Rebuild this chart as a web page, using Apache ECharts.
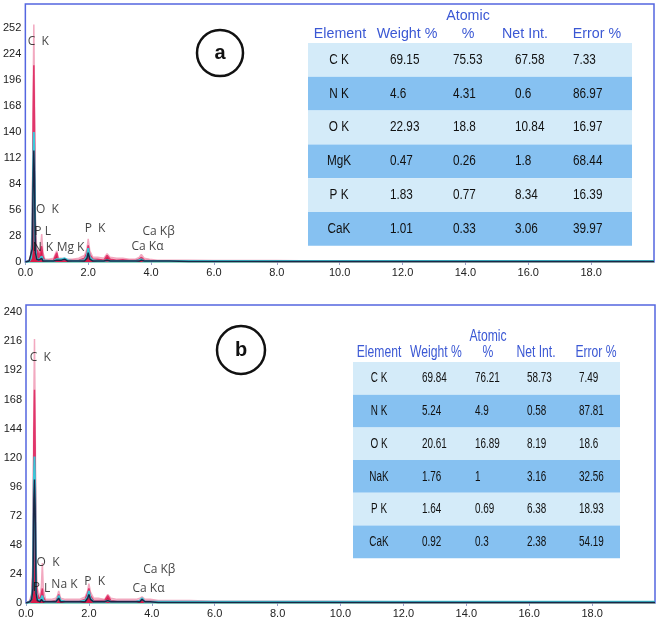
<!DOCTYPE html>
<html><head><meta charset="utf-8">
<script src="https://cdn.jsdelivr.net/npm/echarts@6/dist/echarts.min.js"></script>
<style>html,body{margin:0;padding:0;background:#fff}#c{width:661px;height:623px}</style>
</head><body><div id="c"></div>
<script>
// ================= DATA =================
// Panel (a) spectrum: energy (keV) and counts for each overlaid trace
const energyA = [0,0.12,0.18,0.22,0.25,0.27,0.29,0.32,0.36,0.39, 0.43,0.48,0.52,0.56,0.62,0.75,0.9,0.96,1.0,1.05, 1.15,1.25,1.35,1.5,1.7,1.88,1.96,2.0,2.05,2.15, 2.3,2.5,2.6,2.7,2.9,3.1,3.3,3.5,3.62,3.69, 3.78,3.95,4.2,4.6,5.2,6.0,7.0,8.0,9.5,12.0, 15.0,20.0];
const envelopeA = [0,2,8,40,190,256,180,45,14,16, 8,14,30,10,3,3,4,9,12,4, 4,3,3,3,4,7,14,25,12,5, 5,4,9,5,4,4,3,3,5,8, 4,3,2,2,2,1.5,1.5,1.5,1,1, 1,1];
const redA = [0,1,6,28,160,212,150,30,10,13, 5,11,17,6,1.5,1.5,2,7,10,2, 2,1.5,1.5,1.5,2,4,10,18,8,3, 3,2,7,3,2,2.5,1.5,1.5,3,5, 2,1.5,1,1,1,0.8,0.8,0.6,0.5,0.5, 0.5,0.5];
const cyanA = [0,1,4,18,110,140,105,14,4,4, 2,3,6,2,1,1,1,2,3,2, 3,4,2,1,1,2,6,15,5,2, 1,1,2,1,1,1,1,1,2,3, 1,1,1,1,1,1,1,1,1,1, 1,1];
const navyA = [0,1,3,14,95,120,90,10,3,3, 2,2,4,1,1,1,1,2,2,1, 2,3,1,1,1,1,4,10,3,1, 1,1,2,1,1,1,1,1,1,2, 1,1,1,1,0.5,0.5,0.5,0.5,0.5,0.5, 0.5,0.5];

// Panel (b) spectrum
const energyB = [0,0.12,0.18,0.22,0.25,0.27,0.29,0.32,0.36,0.40, 0.45,0.49,0.52,0.55,0.62,0.8,0.95,1.0,1.04,1.1, 1.25,1.5,1.7,1.88,1.96,2.0,2.05,2.15,2.3,2.5, 2.6,2.7,2.9,3.1,3.3,3.5,3.62,3.69,3.78,3.95, 4.2,4.6,5.2,6.0,7.0,8.0,9.5,12.0,15.0,20.0];
const envelopeB = [0,2,8,35,170,218,160,35,12,8, 6,14,33,12,3,3,4,6,10,4, 3,3,3,5,10,16,9,4,4,3, 7,4,3,3,3,3,4,5,3,3, 2,2,2,1.5,1.5,1.5,1.5,1,1,1];
const redB = [0,1,6,24,140,176,130,18,8,5, 3,8,12,5,1.5,1.5,2,4,7,2, 1.5,1.5,1.5,3,8,12,6,2,2,2, 6,2,1.5,1.5,1.5,1.5,2,3,1.5,1.5, 1,1,1,0.8,0.8,0.8,0.6,0.5,0.5,0.5];
const cyanB = [0,1,4,15,100,121,95,10,3,2, 2,4,6,2,1,1,1,3,6,2, 1,1,1,2,5,10,4,1,1,1, 2,1,1,1,1,1,2,4,1,1, 1,1,1,1,1,1,1,1,1,1];
const navyB = [0,1,3,12,85,102,80,8,2,2, 1,3,4,1,1,1,1,2,4,1, 1,1,1,1,4,7,3,1,1,1, 2,1,1,1,1,1,1,3,1,1, 0.5,0.5,0.5,0.5,0.5,0.5,0.5,0.5,0.5,0.5];

// Axis ticks
const xMin = 0, xMax = 20, xStep = 2;
const yMaxA = 278, yStepA = 28;
const yMaxB = 246, yStepB = 24;

// Peak annotations: [text, energy keV, counts]
const peakLabelsA = [['C  K',0.06,238],['O  K',0.32,56],['P',0.27,33],['L',0.6,33],['N',0.22,16],['K',0.63,16],['Mg K',0.98,16],['P  K',1.87,35.5],['Ca K\u03b2',3.71,33],['Ca K\u03b1',3.36,17]];
const peakLabelsB = [['C  K',0.1,203],['O  K',0.32,33],['P',0.2,13],['L',0.56,11.6],['Na K',0.79,15],['P  K',1.84,18],['Ca K\u03b2',3.71,28],['Ca K\u03b1',3.37,11.6]];

// Quantification tables
const headerTop  = ['', '', 'Atomic', '', ''];
const headerMain = ['Element', 'Weight %', '%', 'Net Int.', 'Error %'];
const elementsA = ['C K','N K','O K','MgK','P K','CaK'];
const weightA   = ['69.15','4.6','22.93','0.47','1.83','1.01'];
const atomicA   = ['75.53','4.31','18.8','0.26','0.77','0.33'];
const netIntA   = ['67.58','0.6','10.84','1.8','8.34','3.06'];
const errorA    = ['7.33','86.97','16.97','68.44','16.39','39.97'];
const elementsB = ['C K','N K','O K','NaK','P K','CaK'];
const weightB   = ['69.84','5.24','20.61','1.76','1.64','0.92'];
const atomicB   = ['76.21','4.9','16.89','1','0.69','0.3'];
const netIntB   = ['58.73','0.58','8.19','3.16','6.38','2.38'];
const errorB    = ['7.49','87.81','18.6','32.56','18.93','54.19'];
const panelTags = ['a', 'b'];

// ================= CHART =================
const zip = (xs, ys) => xs.map((x, i) => [x, ys[i]]);
const chart = echarts.init(document.getElementById('c'));
const axisFont = '"Liberation Sans",Arial,sans-serif';

function spectrumSeries(idx, e, env, red, cyan, navy) {
  return [
    {type:'line', xAxisIndex:idx, yAxisIndex:idx, data:zip(e, env), showSymbol:false, z:2,
     lineStyle:{color:'#f2a9c0', width:1.5}, areaStyle:{color:'#f7c8d6', opacity:1}},
    {type:'line', xAxisIndex:idx, yAxisIndex:idx, data:zip(e, red), showSymbol:false, z:3,
     lineStyle:{color:'#e0356a', width:1.5}, areaStyle:{color:'#d81b48', opacity:1}},
    {type:'line', xAxisIndex:idx, yAxisIndex:idx, data:zip(e, cyan), showSymbol:false, z:4,
     lineStyle:{color:'#3cc8d8', width:2}},
    {type:'line', xAxisIndex:idx, yAxisIndex:idx, data:zip(e, navy), showSymbol:false, z:5,
     lineStyle:{color:'#1c2646', width:1.5}},
  ];
}
function labelSeries(idx, labels) {
  return {type:'scatter', xAxisIndex:idx, yAxisIndex:idx, symbolSize:1, z:10, silent:true,
    itemStyle:{color:'rgba(0,0,0,0)'},
    data: labels.map(l => ({name:l[0], value:[l[1], l[2]]})),
    label:{show:true, position:'right', distance:0, formatter:'{b}', color:'#111', fontSize:12,
      fontFamily:'"Open Sans","Liberation Sans",sans-serif'}};
}
function xAxisCfg(idx) {
  return {gridIndex:idx, type:'value', min:xMin, max:xMax, interval:xStep,
    axisLine:{show:true, lineStyle:{color:'#8fd6c6', width:1}},
    axisTick:{show:true, length:3, lineStyle:{color:'#9aa4c8'}},
    splitLine:{show:false},
    axisLabel:{formatter:v => v.toFixed(1), showMaxLabel:false, fontSize:11, color:'#222', margin:5, fontFamily:axisFont}};
}
function yAxisCfg(idx, max, step) {
  return {gridIndex:idx, type:'value', min:0, max:max, interval:step,
    axisLine:{show:false}, axisTick:{show:false}, splitLine:{show:false},
    axisLabel:{showMaxLabel:false, fontSize:11, color:'#222', margin:4, fontFamily:axisFont}};
}

// text helper with horizontal condensing
function txt(t, x, y, align, font, fill, sx) {
  return {type:'text', z:21, x:x, y:y, scaleX:sx, scaleY:1,
    style:{text:t, x:0, y:0, textAlign:align, textVerticalAlign:'middle', font:font, fill:fill}};
}
function tableGraphic(cfg, elems, cols) {
  const g = [];
  for (let r = 0; r < elems.length; r++) {
    g.push({type:'rect', shape:{x:cfg.x, y:cfg.top + r*cfg.rowH, width:cfg.w, height:cfg.rowH},
      style:{fill: r % 2 === 0 ? '#d4ebf9' : '#86c1f1'}, z:20});
    const cy = cfg.top + r*cfg.rowH + cfg.rowH/2;
    g.push(txt(elems[r], cfg.elemX, cy, 'center', cfg.valFont, '#111', cfg.valScale));
    cols.forEach((col, c) => g.push(txt(col[r], cfg.valX[c], cy, 'left', cfg.valFont, '#111', cfg.valScale)));
  }
  headerMain.forEach((h, i) => {
    g.push(txt(h, cfg.headX[i], cfg.headY, 'center', cfg.headFont, '#3b58d4', cfg.headScale));
    if (headerTop[i]) g.push(txt(headerTop[i], cfg.headX[i], cfg.headY - cfg.headGap, 'center', cfg.headFont, '#3b58d4', cfg.headScale));
  });
  return g;
}
const tabA = {x:308, top:43, w:324, rowH:33.8, elemX:339, valX:[390,453,515,573], headX:[340,407,468,525,597], headY:34, headGap:18,
  valFont:'14px "Liberation Sans",Arial', valScale:0.84, headFont:'15px "Liberation Sans",Arial', headScale:0.95};
const tabB = {x:353, top:362, w:267, rowH:32.7, elemX:379, valX:[422,475,527,579], headX:[379,436,488,536,596], headY:353, headGap:16,
  valFont:'15px "Liberation Sans",Arial', valScale:0.66, headFont:'16px "Liberation Sans",Arial', headScale:0.76};

function circleTag(cx, cy, r, t) {
  return [{type:'circle', z:21, shape:{cx, cy, r}, style:{fill:'#fff', stroke:'#111', lineWidth:2.5}},
          {type:'text', z:22, style:{text:t, x:cx, y:cy, textAlign:'center', textVerticalAlign:'middle',
            font:'bold 20px "Liberation Sans",Arial', fill:'#111'}}];
}

const option = {
  animation:false,
  backgroundColor:'#fff',
  grid:[
    {left:23, right:7, top:4, bottom:361, show:true, borderColor:'#5466e0', borderWidth:1.5, backgroundColor:'#fff'},
    {left:26, right:6, top:305, bottom:20, show:true, borderColor:'#5466e0', borderWidth:1.5, backgroundColor:'#fff'}
  ],
  xAxis:[xAxisCfg(0), xAxisCfg(1)],
  yAxis:[yAxisCfg(0, yMaxA, yStepA), yAxisCfg(1, yMaxB, yStepB)],
  series:[
    ...spectrumSeries(0, energyA, envelopeA, redA, cyanA, navyA),
    ...spectrumSeries(1, energyB, envelopeB, redB, cyanB, navyB),
    labelSeries(0, peakLabelsA), labelSeries(1, peakLabelsB)
  ],
  graphic:[
    ...tableGraphic(tabA, elementsA, [weightA, atomicA, netIntA, errorA]),
    ...tableGraphic(tabB, elementsB, [weightB, atomicB, netIntB, errorB]),
    ...circleTag(220, 53, 23, panelTags[0]),
    ...circleTag(241, 350, 24, panelTags[1])
  ]
};
chart.setOption(option);
</script></body></html>
